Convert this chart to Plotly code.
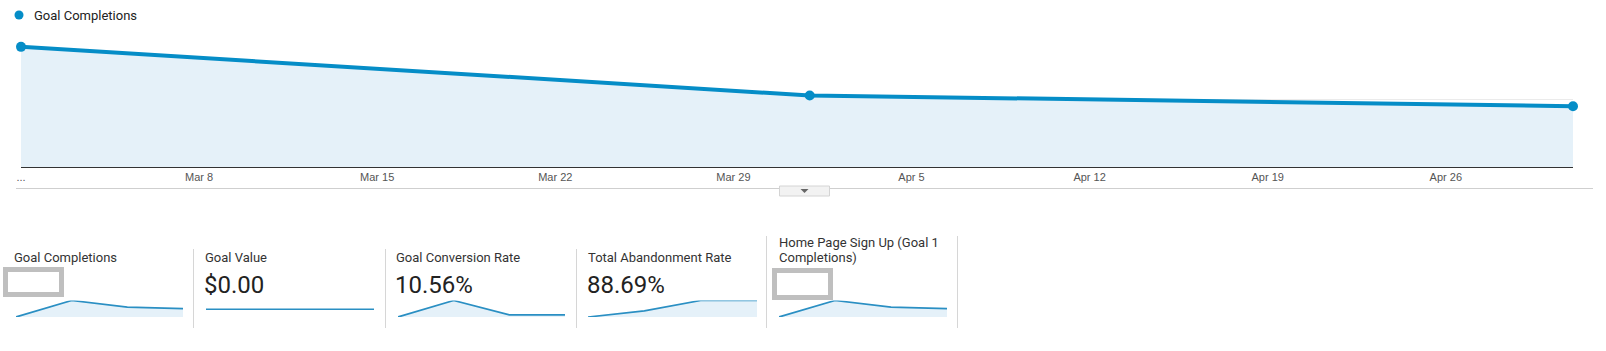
import plotly.graph_objects as go

# ---------------- data ----------------
main_dates = ["2017-03-01", "2017-04-01", "2017-05-01"]
main_values = [89, 53, 45]
tick_dates = ["2017-03-01", "2017-03-08", "2017-03-15", "2017-03-22", "2017-03-29",
              "2017-04-05", "2017-04-12", "2017-04-19", "2017-04-26"]
tick_labels = ["...", "Mar 8", "Mar 15", "Mar 22", "Mar 29", "Apr 5", "Apr 12", "Apr 19", "Apr 26"]
series_name = "Goal Completions"

card_titles = ["Goal Completions", "Goal Value", "Goal Conversion Rate",
               "Total Abandonment Rate", "Home Page Sign Up (Goal 1<br>Completions)"]
card_values = ["", "$0.00", "10.56%", "88.69%", ""]
spark_periods = [0, 1, 2, 3]
spark_goal_completions = [0, 89, 53, 45]
spark_goal_value = [0, 0, 0, 0]
spark_conversion_rate = [9.8, 12.1, 10.1, 10.1]
spark_abandonment_rate = [86.9, 87.75, 89.2, 89.2]
spark_goal1_completions = [0, 89, 53, 45]

# ---------------- helpers ----------------
W, H = 1606, 351
def px(x):
    return x / W
def py(y):
    return (H - y) / H

BLUE = "#058dc7"
FILL = "#e5f1f9"

fig = go.Figure()

# main chart
fig.add_trace(go.Scatter(
    x=main_dates, y=main_values, mode="lines+markers", name=series_name,
    line=dict(color=BLUE, width=4), marker=dict(color=BLUE, size=10),
    fill="tozeroy", fillcolor=FILL, cliponaxis=False, showlegend=False,
    hoverinfo="x+y"))

layout_axes = dict(
    xaxis=dict(domain=[px(21), px(1573)], type="date",
               range=["2017-03-01", "2017-05-01"],
               tickvals=tick_dates, ticktext=tick_labels,
               tickfont=dict(family="Arial, Liberation Sans", size=11, color="#555"),
               ticks="", showgrid=False, zeroline=False, automargin=False,
               showline=True, linecolor="#333", linewidth=1),
    yaxis=dict(domain=[py(167), py(32)], range=[0, 100], dtick=50,
               showticklabels=False, showgrid=True, gridcolor="#ebebeb",
               zeroline=False, fixedrange=True, automargin=False),
)

# sparklines
spark_specs = [
    (spark_goal_completions, 16, 183, [0, 89], True),
    (spark_goal_value, 206, 374, [-1, 1.125], False),
    (spark_conversion_rate, 398, 565, [9.8, 12.1], True),
    (spark_abandonment_rate, 588, 757, [86.9, 89.2], True),
    (spark_goal1_completions, 779, 947, [0, 89], True),
]
for i, (vals, x0, x1, yr, filled) in enumerate(spark_specs):
    n = i + 2
    fig.add_trace(go.Scatter(
        x=spark_periods, y=vals, mode="lines",
        line=dict(color="#2a8fc3", width=1.7),
        fill="tozeroy" if filled else None, fillcolor=FILL,
        xaxis=f"x{n}", yaxis=f"y{n}", showlegend=False, hoverinfo="skip"))
    layout_axes[f"xaxis{n}"] = dict(domain=[px(x0), px(x1)], range=[0, 3],
                                    visible=False, fixedrange=True, automargin=False)
    layout_axes[f"yaxis{n}"] = dict(domain=[py(317), py(300.5)], range=yr,
                                    visible=False, fixedrange=True, automargin=False)

shapes = []
annotations = []

# legend
shapes.append(dict(type="circle", xref="paper", yref="paper",
                   x0=px(14.5), x1=px(23.5), y0=py(19.5), y1=py(10.5),
                   fillcolor=BLUE, line=dict(width=0)))
annotations.append(dict(text=series_name, x=px(32), y=py(15.5), xref="paper", yref="paper",
                        xanchor="left", yanchor="middle", showarrow=False,
                        font=dict(family="Roboto", size=13, color="#222")))

# separator under axis and button
shapes.append(dict(type="line", xref="paper", yref="paper", x0=px(16), x1=px(1593),
                   y0=py(188.5), y1=py(188.5), line=dict(color="#cfcfcf", width=1)))
shapes.append(dict(type="rect", xref="paper", yref="paper", x0=px(779.5), x1=px(829.5),
                   y0=py(186), y1=py(196), fillcolor="#f2f2f2",
                   line=dict(color="#d4d4d4", width=1)))
shapes.append(dict(type="path", xref="paper", yref="paper",
                   path=f"M {px(800.5)} {py(189)} L {px(808.5)} {py(189)} L {px(804.5)} {py(193)} Z",
                   fillcolor="#666", line=dict(width=0)))

# card separators
for x, ytop in [(193, 249), (385, 249), (576, 249), (766, 236), (957, 236)]:
    shapes.append(dict(type="line", xref="paper", yref="paper", x0=px(x + 0.5), x1=px(x + 0.5),
                       y0=py(ytop), y1=py(328), line=dict(color="#d6d6d6", width=1)))

# card titles and values
title_x = [12, 203, 394, 586, 777]
for tx, title, value in zip(title_x, card_titles, card_values):
    lines = title.split("<br>")
    if len(lines) == 1:
        ys = [257]
    else:
        ys = [242.5 + 14.5 * k for k in range(len(lines))]
    for line_text, ty in zip(lines, ys):
        annotations.append(dict(text=line_text, x=px(tx), y=py(ty), xref="paper", yref="paper",
                                xanchor="left", yanchor="middle", align="left", showarrow=False,
                                font=dict(family="Roboto", size=13, color="#333")))
    if value:
        annotations.append(dict(text=value, x=px(tx - 1), y=py(285), xref="paper", yref="paper",
                                xanchor="left", yanchor="middle", showarrow=False,
                                font=dict(family="Roboto", size=24, color="#222")))

# redaction boxes
for x0, x1, y0, y1 in [(5.5, 61.5, 269.5, 294.5), (774.5, 830.5, 270.5, 297.5)]:
    shapes.append(dict(type="rect", xref="paper", yref="paper", x0=px(x0), x1=px(x1),
                       y0=py(y0), y1=py(y1), fillcolor="white",
                       line=dict(color="#bfbfbf", width=5)))

fig.update_layout(
    width=W, height=H, margin=dict(l=0, r=0, t=0, b=0, pad=0), autosize=False,
    paper_bgcolor="white", plot_bgcolor="white",
    shapes=shapes, annotations=annotations, showlegend=False,
    **layout_axes)

fig.write_html("out.html")
